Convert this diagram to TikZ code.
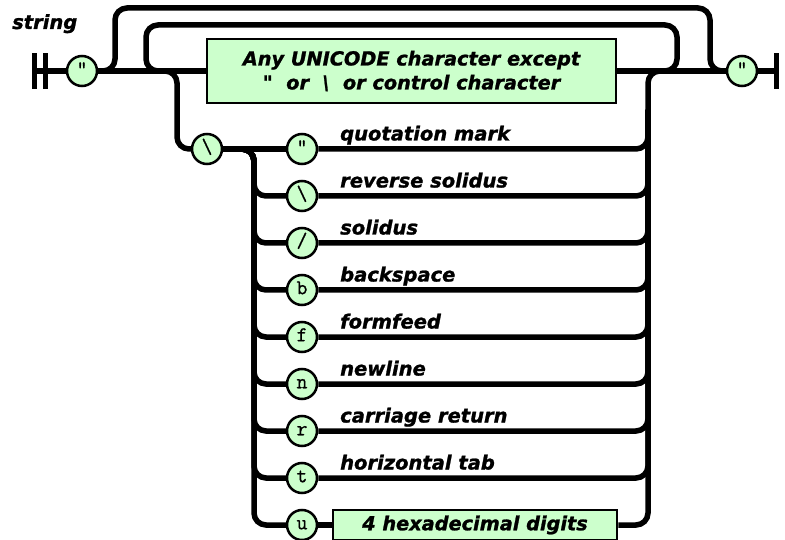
\documentclass[tikz,border=0pt]{standalone}
\usepackage{fontspec}
\setmainfont{DejaVu Sans}[Ligatures=TeXOff, BoldItalicFeatures={FakeBold=1.2}]
\newfontfamily\circfont{Latin Modern Mono}[FakeBold=1]
\usetikzlibrary{backgrounds}
\definecolor{jgreen}{RGB}{204,255,204}
\begin{document}
\begin{tikzpicture}[x=1pt,y=-1pt,
  rail/.style={line width=5.5pt, rounded corners=12pt},
  term/.style={circle, draw=black, line width=2.5pt, fill=jgreen, minimum size=30pt, inner sep=0pt, text height=12pt, text depth=3.5pt, font=\fontsize{21}{21}\selectfont\circfont},
  nterm/.style={draw=black, line width=2.5pt, fill=jgreen, inner sep=0pt, align=center, font=\fontsize{19.3}{24}\selectfont\bfseries\itshape},
  lab/.style={anchor=base west, inner sep=0pt, font=\fontsize{19.5}{24}\selectfont\bfseries\itshape},
  railbar/.style={fill=black, inner sep=0pt, minimum width=5pt, minimum height=36pt}]
\useasboundingbox (0,0) rectangle (785,540);

\node[lab] (title) at (12,29) {string};

\node[railbar] (b1) at (34.5,71) {};
\node[railbar] (b2) at (45.5,71) {};
\node[term] (q0) at (82,71) {"};
\node[nterm, minimum width=409pt, minimum height=64pt] (box) at (411.5,71)
  {Any UNICODE character except\\"\ \ or\ \ \textbackslash\ \ or control character};
\node[term] (qe) at (742,71) {"};
\node[railbar] (b3) at (776,71) {};

\node[term] (esc) at (207,149) {\textbackslash};

\node[term] (r1) at (302,149) {"};
\node[term] (r2) at (302,196) {\textbackslash};
\node[term] (r3) at (302,243) {/};
\node[term] (r4) at (302,290) {b};
\node[term] (r5) at (302,337) {f};
\node[term] (r6) at (302,384) {n};
\node[term] (r7) at (302,431) {r};
\node[term] (r8) at (302,478) {t};
\node[term] (r9) at (302,525) {u};
\node[nterm, minimum width=284pt, minimum height=30pt] (hex) at (475,525) {4 hexadecimal digits};

\node[lab] (l1) at (340,140.5) {quotation mark};
\node[lab] (l2) at (340,187.5) {reverse solidus};
\node[lab] (l3) at (340,234.5) {solidus};
\node[lab] (l4) at (340,281.5) {backspace};
\node[lab] (l5) at (340,328.5) {formfeed};
\node[lab] (l6) at (340,375.5) {newline};
\node[lab] (l7) at (340,422.5) {carriage return};
\node[lab] (l8) at (340,469.5) {horizontal tab};

\coordinate (oL) at (115,71);
\coordinate (oLt) at (115,8);
\coordinate (oRt) at (710,8);
\coordinate (oR) at (710,71);
\coordinate (iR) at (677,71);
\coordinate (iRt) at (677,25);
\coordinate (iLt) at (146,25);
\coordinate (iL) at (146,71);
\coordinate (eL) at (177,71);
\coordinate (eLb) at (177,149);
\coordinate (eR) at (648,71);
\coordinate (eRb) at (648,149);
\coordinate (eRm) at (648,110);
\coordinate (vL) at (254,149);
\foreach \i/\y in {2/196,3/243,4/290,5/337,6/384,7/431,8/478,9/525}{
  \coordinate (vL\i) at (254,\y);
  \coordinate (vR\i) at (648,\y);
}

\begin{pgfonlayer}{background}
\draw[rail] (b1.center) -- (q0.west);
\draw[rail] (q0.east) -- (box.west);
\draw[rail] (box.east) -- (qe.west);
\draw[rail] (qe.east) -- (b3.center);
\draw[rail] (q0.east) -- (oL) -- (oLt) -- (oRt) -- (oR) -- (qe.west);
\draw[rail] (box.east) -- (iR) -- (iRt) -- (iLt) -- (iL) -- (box.west);
\draw[rail] (q0.east) -- (eL) -- (eLb) -- (esc.west);
\draw[rail] (r1.east) -- (eRb) -- (eR) -- (qe.west);
\draw[rail] (esc.east) -- (r1.west);
\foreach \i in {2,...,8}{
  \draw[rail] (esc.east) -- (vL) -- (vL\i) -- (r\i.west);
  \draw[rail] (r\i.east) -- (vR\i) -- (eRm);
}
\draw[rail] (esc.east) -- (vL) -- (vL9) -- (r9.west);
\draw[rail] (r9.east) -- (hex.west);
\draw[rail] (hex.east) -- (vR9) -- (eRm);
\end{pgfonlayer}
\end{tikzpicture}
\end{document}
